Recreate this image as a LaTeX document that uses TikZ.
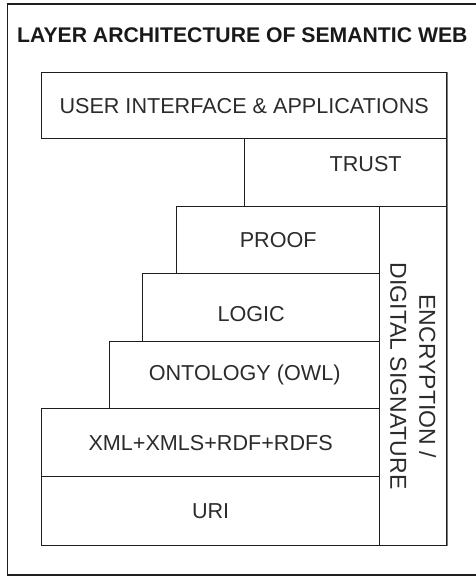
\documentclass[tikz,border=0pt]{standalone}
\usepackage{fontspec}
\setmainfont{Liberation Sans}
\usetikzlibrary{positioning}
\definecolor{layline}{HTML}{1E1E1E}
\definecolor{laytext}{HTML}{2B2B2B}
\definecolor{layedge}{HTML}{7A7A7A}
\tikzset{
  lframe/.style={draw=layline, line width=1.8pt},
  lbox/.style={draw=layline, line width=1.3pt, anchor=north west, inner sep=0pt,
               text=laytext, font=\fontsize{21.6}{25}\selectfont},
  ltitle/.style={text=black!90, inner sep=0pt, anchor=west,
                 font=\bfseries\fontsize{21.2}{24}\selectfont},
  lvert/.style={text=laytext, inner sep=0pt, rotate=-90, align=center,
                font=\fontsize{23}{29}\selectfont},
}

\begin{document}
\begin{tikzpicture}[x=1pt,y=-1pt]
\useasboundingbox (0,0) rectangle (476,579);
\draw[lframe] (7.5,4) rectangle (490,575);
\node[ltitle] (title) at (17,35) {LAYER ARCHITECTURE OF SEMANTIC WEB};
\node[lbox,minimum width=405,minimum height=66] (ui) at (41,72) {USER INTERFACE \& APPLICATIONS};
\node[lbox,minimum width=202,minimum height=68,
      label={[text=laytext,font=\fontsize{21.6}{25}\selectfont,xshift=20pt,yshift=9pt]center:TRUST}] (trust) at (244,138) {};
\node[lbox,minimum width=203,minimum height=67] (proof) at (176,206) {PROOF};
\node[lbox,minimum width=237,minimum height=68,
      label={[text=laytext,font=\fontsize{21.6}{25}\selectfont,xshift=-10pt,yshift=-6pt]center:LOGIC}] (logic) at (142,273) {};
\node[lbox,minimum width=270,minimum height=67] (onto) at (109,341) {ONTOLOGY (OWL)};
\node[lbox,minimum width=338,minimum height=68] (xml) at (41,408) {XML+XMLS+RDF+RDFS};
\node[lbox,minimum width=338,minimum height=69] (uri) at (41,476) {URI};
\node[lbox,minimum width=67,minimum height=339] (enc) at (379,206) {};
\node[lvert] (enctext) at (enc.center) {ENCRYPTION /\\DIGITAL SIGNATURE};
\draw[layedge, line width=1.3pt] (ui.north east) -- (enc.south east);
\end{tikzpicture}
\end{document}
